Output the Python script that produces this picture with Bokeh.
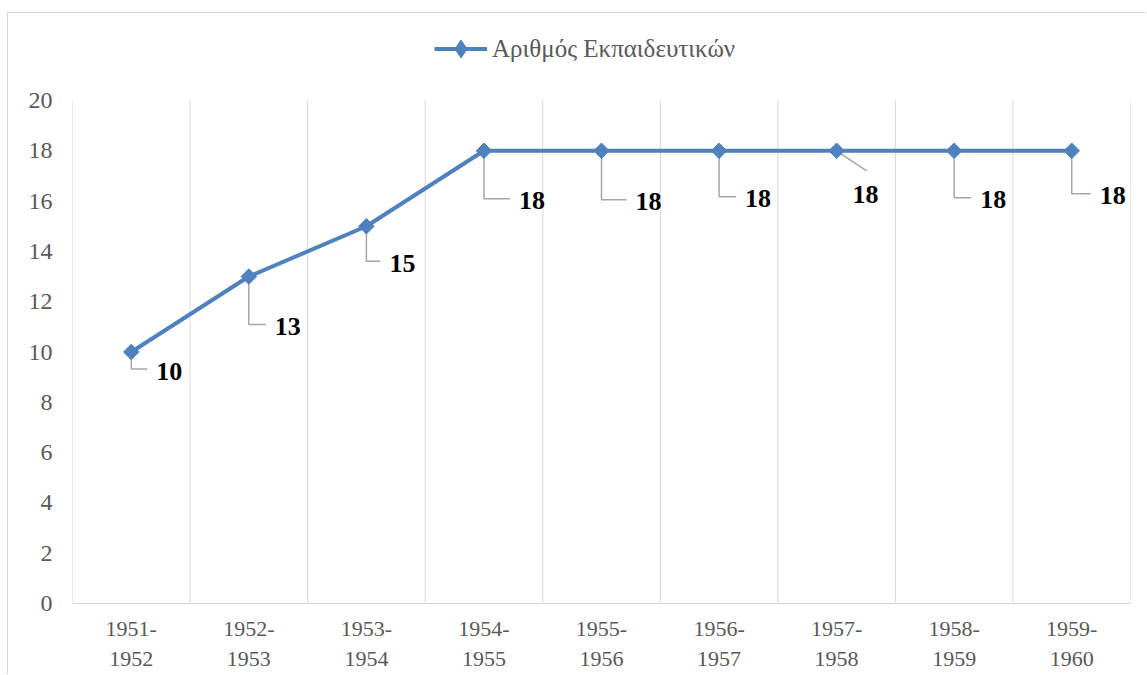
import numpy as np
from bokeh.plotting import figure
from bokeh.models import Range1d, FixedTicker, ColumnDataSource, Legend, LegendItem
from bokeh.core.properties import value
from bokeh.embed import file_html
from bokeh.resources import INLINE

# ---- data ----
tick_labels = ["1951-\n1952", "1952-\n1953", "1953-\n1954", "1954-\n1955", "1955-\n1956",
               "1956-\n1957", "1957-\n1958", "1958-\n1959", "1959-\n1960"]
teachers = [10, 13, 15, 18, 18, 18, 18, 18, 18]
series_name = "Αριθμός Εκπαιδευτικών"
y_ticks = list(range(0, 21, 2))
y_max = 20

# label offsets (pixels, right / down) and leader style
label_dx_px = [25, 26, 23, 35, 34, 26, 16, 26, 28]
label_dy_px = [19, 50, 37, 50, 51, 48, 44, 49, 45]
leader_bent = [True, True, True, True, True, True, False, True, True]

FONT = "Liberation Serif"
BLUE = "#4f81bd"
GRAY_TXT = "#595959"
GRID = "#d9d9d9"

W, H = 1139, 662
ML, MR, MT, MB = 64, 17, 12, 72
PLOT_TOP = 87          # canvas y of the value 20
n = len(teachers)
xs_pos = [i + 0.5 for i in range(n)]

fw = W - ML - MR
fh = H - MT - MB
value_px = (H - MB - PLOT_TOP) / y_max
y_top = fh / value_px

p = figure(width=W, height=H, output_backend="svg", toolbar_location=None,
           x_range=Range1d(0, n), y_range=Range1d(0, y_top),
           min_border_left=ML, min_border_right=MR, min_border_top=MT, min_border_bottom=MB)
p.styles = {"border-left": "1px solid #d9d9d9", "border-top": "1px solid #d9d9d9",
            "margin-left": "7px", "margin-top": "12px"}
p.outline_line_color = None
p.background_fill_color = "white"
p.border_fill_color = "white"

px_x = n / fw
px_y = 1 / value_px

# axes
p.xaxis.ticker = FixedTicker(ticks=xs_pos)
p.xaxis.major_label_overrides = {x: lab for x, lab in zip(xs_pos, tick_labels)}
p.xaxis.axis_line_color = GRID
p.xaxis.major_tick_line_color = None
p.xaxis.minor_tick_line_color = None
p.xaxis.major_tick_out = 0
p.xaxis.major_label_standoff = 12
p.xaxis.major_label_text_font = FONT
p.xaxis.major_label_text_font_size = "22px"
p.xaxis.major_label_text_color = GRAY_TXT

p.yaxis.ticker = FixedTicker(ticks=y_ticks)
p.yaxis.axis_line_color = None
p.yaxis.major_tick_line_color = None
p.yaxis.minor_tick_line_color = None
p.yaxis.major_tick_out = 0
p.yaxis.major_label_standoff = 20
p.yaxis.major_label_text_font = FONT
p.yaxis.major_label_text_font_size = "24px"
p.yaxis.major_label_text_color = GRAY_TXT

p.xgrid.grid_line_color = None
p.ygrid.grid_line_color = None

# vertical category-boundary gridlines
bounds = list(range(0, n + 1))
p.segment(x0=bounds, y0=[0] * len(bounds), x1=bounds, y1=[y_max] * len(bounds),
          line_color=GRID, line_width=1)

# leader lines
lx, ly = [], []
for i in range(n):
    x0, y0 = xs_pos[i], teachers[i]
    yl = y0 - (label_dy_px[i] - 2) * px_y
    if leader_bent[i]:
        lx.append([x0, x0, x0 + (label_dx_px[i] - 9) * px_x])
        ly.append([y0, yl, yl])
    else:
        lx.append([x0, x0 + (label_dx_px[i] + 14) * px_x])
        ly.append([y0, y0 - (label_dy_px[i] - 24) * px_y])
p.multi_line(lx, ly, line_color="#a6a6a6", line_width=1.5)

# series
src = ColumnDataSource(dict(x=xs_pos, y=teachers))
r_line = p.line("x", "y", source=src, line_color=BLUE, line_width=4)
p.scatter("x", "y", source=src, marker="square", angle=np.pi / 4, size=11,
          fill_color=BLUE, line_color=BLUE)
# legend-only marker (kept outside the visible range)
r_leg = p.scatter(x=[-100], y=[-100], marker="diamond", size=19, fill_color=BLUE, line_color=BLUE)

# data labels
lab_src = ColumnDataSource(dict(
    x=[xs_pos[i] + label_dx_px[i] * px_x for i in range(n)],
    y=[teachers[i] - label_dy_px[i] * px_y for i in range(n)],
    t=[str(v) for v in teachers]))
p.text("x", "y", text="t", source=lab_src, text_font=value(FONT), text_font_style="bold",
       text_font_size="26px", text_color="black", text_align="left", text_baseline="middle")

# legend
lg = Legend(items=[LegendItem(label=series_name, renderers=[r_line, r_leg])],
            location=(362, fh - 46),
            margin=0, padding=2, glyph_width=53, glyph_height=45, label_standoff=5,
            label_text_font=FONT, label_text_font_size="25px", label_text_color=GRAY_TXT,
            border_line_color=None, background_fill_alpha=0)
p.add_layout(lg)

open("out.html", "w").write(file_html(p, INLINE))
